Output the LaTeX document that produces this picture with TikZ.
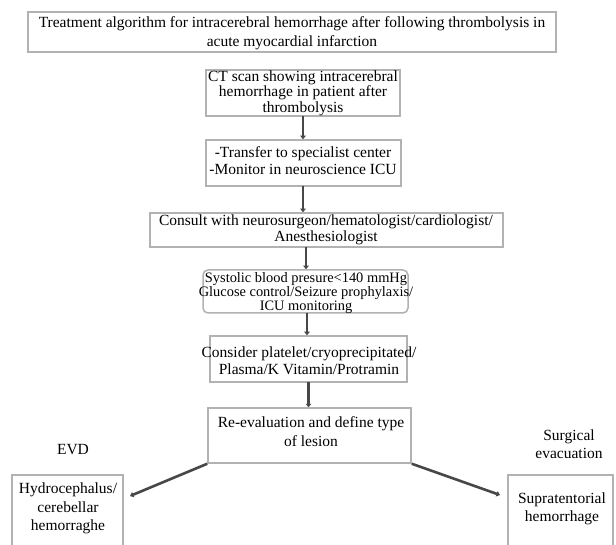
\documentclass[tikz,border=0pt]{standalone}
\usepackage{fontspec}
\setmainfont{Liberation Serif}
\usetikzlibrary{arrows.meta,fit}
\begin{document}
\begin{tikzpicture}[x=1pt,y=-1pt,
  box/.style={draw=gray!60,line width=1.5pt,fill=white,inner sep=0pt},
  txt/.style={align=center,inner sep=0pt,font=\fontsize{15.5}{17}\selectfont},
  conn/.style={draw=black!72,line width=2.6pt,-{Triangle[length=3.5pt,width=5.5pt]}},
  lbl/.style={align=center,inner sep=0pt,font=\fontsize{15.5}{18}\selectfont}]
\clip (0,0) rectangle (616,545);
\fill[white] (0,0) rectangle (616,545);
% boxes
\node[box,fit={(28,12) (556,52)}] (top) {};
\node[box,fit={(206,70) (400,116)}] (ct) {};
\node[box,fit={(206,140) (401,186)}] (tr) {};
\node[box,fit={(150,213) (503,247)}] (cons) {};
\node[box,rounded corners=5pt,fit={(203,270) (408,313)}] (sys) {};
\node[box,fit={(210,336) (407,382)}] (con) {};
\node[box,fit={(208,408) (411,463)}] (re) {};
\node[box,fit={(12,475) (123,560)}] (lft) {};
\node[box,fit={(508,475) (613,560)}] (rgt) {};
% texts
\node[txt,font=\fontsize{15.5}{19}\selectfont] (topt) at (292,33.5) {Treatment algorithm for intracerebral hemorrhage after following thrombolysis in\\acute myocardial infarction};
\node[txt,font=\fontsize{15.5}{15.5}\selectfont] (ctt) at (303,93) {CT scan showing intracerebral\\hemorrhage in patient after\\thrombolysis};
\node[txt] (trt) at (303,160.5) {-Transfer to specialist center\\-Monitor in neuroscience ICU};
\node[txt,font=\fontsize{15.5}{16}\selectfont] (const) at (326,230) {Consult with neurosurgeon/hematologist/cardiologist/\\Anesthesiologist};
\node[txt,font=\fontsize{14.4}{14}\selectfont] (syst) at (306,293) {Systolic blood presure<140 mmHg\\Glucose control/Seizure prophylaxis/\\ICU monitoring};
\node[txt] (cont) at (309,360.5) {Consider platelet/cryoprecipitated/\\Plasma/K Vitamin/Protramin};
\node[txt,font=\fontsize{15.5}{19}\selectfont] (ret) at (311,431.5) {Re-evaluation and define type\\of lesion};
\node[txt,font=\fontsize{15.5}{18.5}\selectfont] (lftt) at (68,508.5) {Hydrocephalus/\\cerebellar\\hemorraghe};
\node[txt,font=\fontsize{15.5}{18}\selectfont] (rgtt) at (562,509) {Supratentorial\\hemorrhage};
\node[lbl] (evd) at (73,450) {EVD};
\node[lbl] (surg) at (569,444) {Surgical\\evacuation};
% connectors
\coordinate (ltip) at (130,496);
\coordinate (rtip) at (500,495);
\draw[conn] (303,116) coordinate (a1) -- (a1 |- tr.north);
\draw[conn] (303,186) coordinate (a2) -- (a2 |- cons.north);
\draw[conn] (306,247) coordinate (a3) -- (a3 |- sys.north);
\draw[conn] (307,313) coordinate (a4) -- (a4 |- con.north);
\draw[conn] (308.5,382) coordinate (a5) -- (a5 |- re.north);
\draw[conn] (re.south west) -- (ltip);
\draw[conn] (re.south east) -- (rtip);
\end{tikzpicture}
\end{document}
